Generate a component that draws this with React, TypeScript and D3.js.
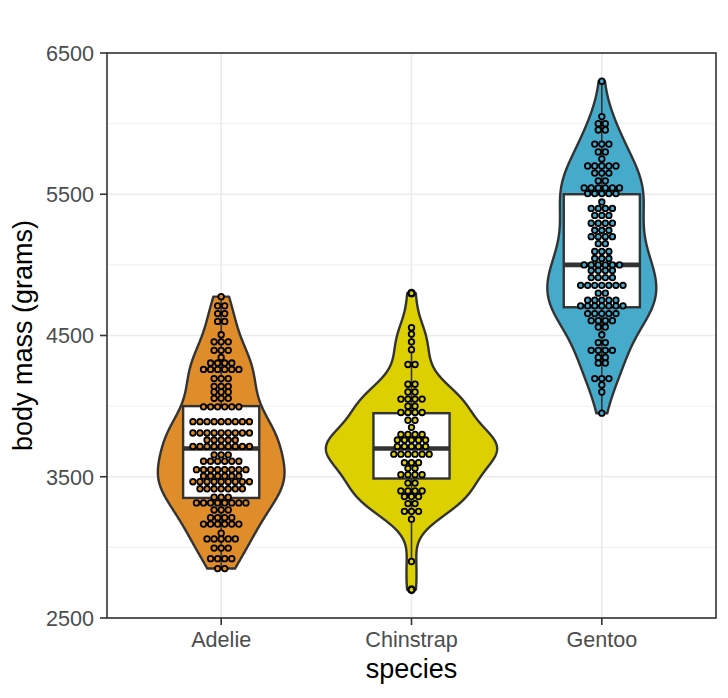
import * as d3 from 'd3';

const species = ['Adelie', 'Chinstrap', 'Gentoo'];
const fills = ['#DF8C2A', '#DDD000', '#46AACB'];

// dot rows: bin centre (grams) and number of dots in the row
const adelieBins = [4775, 4710, 4655, 4600, 4505, 4455, 4395, 4345, 4305, 4260, 4195, 4140, 4100, 4055, 3995, 3890, 3810, 3760, 3715, 3655, 3610, 3550, 3505, 3465, 3415, 3355, 3315, 3265, 3210, 3165, 3100, 3060, 2995, 2920, 2850];
const adelieCounts = [1, 2, 2, 2, 1, 3, 3, 1, 4, 6, 3, 3, 3, 3, 6, 9, 9, 5, 9, 3, 6, 8, 6, 9, 7, 3, 8, 3, 4, 6, 1, 5, 3, 4, 2];

const chinstrapBins = [4800, 4555, 4510, 4455, 4400, 4295, 4155, 4100, 4050, 4000, 3955, 3900, 3850, 3800, 3760, 3715, 3660, 3600, 3560, 3515, 3455, 3400, 3360, 3310, 3255, 3200, 2900, 2700];
const chinstrapCounts = [1, 1, 1, 1, 1, 2, 2, 2, 4, 2, 4, 2, 1, 4, 5, 5, 6, 3, 2, 4, 2, 4, 3, 2, 3, 1, 1, 1];

const gentooBins = [6300, 6050, 6000, 5955, 5855, 5800, 5750, 5700, 5650, 5595, 5545, 5505, 5445, 5400, 5350, 5295, 5245, 5200, 5150, 5095, 5045, 5000, 4960, 4910, 4855, 4800, 4750, 4710, 4655, 4605, 4560, 4505, 4450, 4395, 4345, 4305, 4195, 4150, 4100, 3950];
const gentooCounts = [1, 1, 2, 2, 3, 2, 1, 5, 3, 2, 6, 5, 1, 4, 3, 4, 3, 4, 2, 3, 3, 6, 4, 4, 7, 2, 5, 7, 5, 4, 2, 1, 2, 4, 2, 2, 3, 1, 1, 1];

const boxQ1 = [3350, 3487.5, 4700];
const boxMedian = [3700, 3700, 5000];
const boxQ3 = [4000, 3950, 5500];

const yMajor = [2500, 3500, 4500, 5500, 6500];
const yMinor = [3000, 4000, 5000, 6000];

const allBins = [adelieBins, chinstrapBins, gentooBins];
const allCounts = [adelieCounts, chinstrapCounts, gentooCounts];

const W = 728;
const H = 698;
const panel = { left: 107, right: 716, top: 53, bottom: 618 };

// bandwidth like R's bw.nrd0
function nrd0(v: number[]) {
  const sorted = [...v].sort(d3.ascending);
  const sd = d3.deviation(sorted) || 1;
  const iqr = (d3.quantileSorted(sorted, 0.75) || 0) - (d3.quantileSorted(sorted, 0.25) || 0);
  return 0.9 * Math.min(sd, iqr / 1.34) * Math.pow(v.length, -0.2);
}

function kde(v: number[], n = 512) {
  const bw = nrd0(v);
  const [lo, hi] = d3.extent(v) as [number, number];
  return d3.range(n).map(i => {
    const y = lo + (hi - lo) * i / (n - 1);
    const d = d3.mean(v, x => Math.exp(-0.5 * ((y - x) / bw) ** 2) / Math.sqrt(2 * Math.PI))! / bw;
    return { y, d };
  });
}

const App = () => {
  const x = d3.scalePoint<string>().domain(species).range([panel.left, panel.right]).padding(0.6);
  const y = d3.scaleLinear().domain([2500, 6500]).range([panel.bottom, panel.top]);
  const step = x.step();
  const dotD = Math.abs(y(2550) - y(2500));

  // expand bins into individual observations
  const values = allBins.map((bins, s) => bins.flatMap((b, i) => d3.range(allCounts[s][i]).map(() => b)));
  const densities = values.map(v => kde(v));
  const maxD = d3.max(densities.flat(), d => d.d)!;
  const halfW = 0.45 * step;

  const font = '"Liberation Sans", Arial, Helvetica, sans-serif';

  return (
    <svg width={W} height={H} style={{ position: 'absolute', left: 0, top: 0, display: 'block', background: '#fff' }}>
      <rect x={0} y={0} width={W} height={H} fill="#fff" />
      {/* grid */}
      {yMinor.map(t => (
        <line key={'mi' + t} x1={panel.left} x2={panel.right} y1={y(t)} y2={y(t)} stroke="#EBEBEB" strokeWidth={0.8} />
      ))}
      {yMajor.map(t => (
        <line key={'ma' + t} x1={panel.left} x2={panel.right} y1={y(t)} y2={y(t)} stroke="#EBEBEB" strokeWidth={1.6} />
      ))}
      {species.map(s => (
        <line key={'gx' + s} x1={x(s)} x2={x(s)} y1={panel.top} y2={panel.bottom} stroke="#EBEBEB" strokeWidth={1.6} />
      ))}

      {species.map((s, si) => {
        const cx = x(s)!;
        const area = d3.area<{ y: number; d: number }>()
          .x0(d => cx - d.d / maxD * halfW)
          .x1(d => cx + d.d / maxD * halfW)
          .y(d => y(d.y));
        const v = values[si];
        const q1 = boxQ1[si], q3 = boxQ3[si], iqr = q3 - q1;
        const inside = v.filter(d => d >= q1 - 1.5 * iqr && d <= q3 + 1.5 * iqr);
        const wLo = d3.min(inside)!, wHi = d3.max(inside)!;
        const outliers = Array.from(new Set(v.filter(d => d < wLo || d > wHi)));
        const boxW = 0.4 * step;
        return (
          <g key={s}>
            <path d={area(densities[si]) + 'Z'} fill={fills[si]} stroke="#333333" strokeWidth={2.4} strokeLinejoin="round" />
            <line x1={cx} x2={cx} y1={y(wHi)} y2={y(q3)} stroke="#333333" strokeWidth={1.6} />
            <line x1={cx} x2={cx} y1={y(q1)} y2={y(wLo)} stroke="#333333" strokeWidth={1.6} />
            <rect x={cx - boxW / 2} y={y(q3)} width={boxW} height={y(q1) - y(q3)} fill="#fff" stroke="#333333" strokeWidth={2.4} />
            <line x1={cx - boxW / 2} x2={cx + boxW / 2} y1={y(boxMedian[si])} y2={y(boxMedian[si])} stroke="#333333" strokeWidth={4.6} />
            {outliers.map(o => (
              <circle key={'o' + o} cx={cx} cy={y(o)} r={4.4} fill="#111" />
            ))}
            {allBins[si].map((b, bi) => {
              const n = allCounts[si][bi];
              return d3.range(n).map(k => (
                <circle
                  key={b + '-' + k}
                  cx={cx + (k - (n - 1) / 2) * dotD}
                  cy={y(b)}
                  r={dotD / 2 - 0.75}
                  fill={fills[si]}
                  stroke="#000"
                  strokeWidth={1.8}
                />
              ));
            })}
          </g>
        );
      })}

      {/* panel border */}
      <rect x={panel.left} y={panel.top} width={panel.right - panel.left} height={panel.bottom - panel.top} fill="none" stroke="#333333" strokeWidth={1.6} />

      {/* y axis */}
      {yMajor.map(t => (
        <g key={'yt' + t}>
          <line x1={panel.left - 7} x2={panel.left} y1={y(t)} y2={y(t)} stroke="#333333" strokeWidth={1.6} />
          <text x={panel.left - 13} y={y(t)} dy="0.36em" textAnchor="end" fontFamily={font} fontSize={21.6} fill="#4D4D4D">{t}</text>
        </g>
      ))}
      {/* x axis */}
      {species.map(s => (
        <g key={'xt' + s}>
          <line x1={x(s)} x2={x(s)} y1={panel.bottom} y2={panel.bottom + 7} stroke="#333333" strokeWidth={1.6} />
          <text x={x(s)} y={646.5} textAnchor="middle" fontFamily={font} fontSize={21.6} fill="#4D4D4D">{s}</text>
        </g>
      ))}
      <text x={(panel.left + panel.right) / 2} y={678} textAnchor="middle" fontFamily={font} fontSize={27} fill="#000">species</text>
      <text transform={`translate(32,${(panel.top + panel.bottom) / 2}) rotate(-90)`} textAnchor="middle" fontFamily={font} fontSize={27} fill="#000">body mass (grams)</text>
    </svg>
  );
};

export default App;
